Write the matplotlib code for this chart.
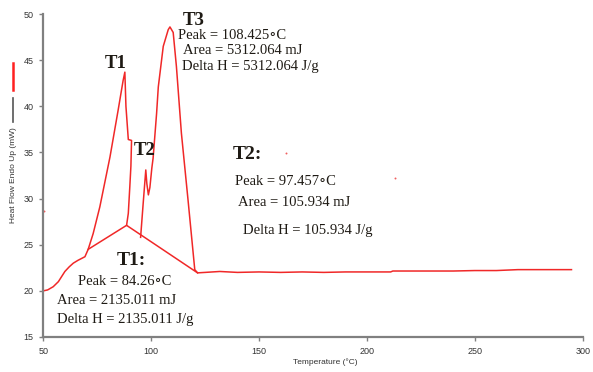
import matplotlib
matplotlib.use("Agg")
import matplotlib.pyplot as plt
from matplotlib.lines import Line2D

# ---- data ----
trace_temp = [50, 52, 54.6, 57, 60, 62, 63.9, 66, 69.3, 70.8,
              73.1, 76.2, 80.9, 84.7, 87.0, 87.8, 88.3, 89.4, 90.9,
              90.6, 90.1, 89.4, 88.6]
trace_heat = [20.0, 20.1, 20.45, 21.0, 22.1, 22.6, 23.0, 23.3, 23.7, 24.5,
              26.2, 29.1, 34.5, 39.6, 42.8, 43.7, 40.0, 36.4, 36.3,
              33.5, 31.3, 28.4, 27.1]

t23_temp = [95.1, 96.3, 97.5, 98.0, 98.7, 99.4, 100.3, 100.9, 102.5, 103.3,
            105.6, 107.9, 108.7, 110.2, 111.7, 114.0, 117.1, 120.2, 121.5,
            125, 131.8, 140, 150, 160, 170, 180, 190, 200, 211,
            212, 220, 230, 240, 250, 260, 265, 270, 280, 290, 294.8]
t23_heat = [25.8, 29.5, 33.1, 31.6, 30.4, 31.2, 33.3, 34.4, 39.2, 42.1,
            46.5, 48.3, 48.6, 48.0, 44.3, 37.1, 29.8, 22.3, 21.95,
            22.0, 22.1, 22.0, 22.05, 22.0, 22.05, 22.0, 22.05, 22.05, 22.05,
            22.15, 22.15, 22.15, 22.15, 22.2, 22.2, 22.25, 22.3, 22.3, 22.3, 22.3]

base_temp = [70.8, 88.6, 121.5]
base_heat = [24.5, 27.1, 21.95]

speck_temp = [162.7, 212.8, 50.3]
speck_heat = [34.9, 32.2, 28.65]

x_ticks = [50, 100, 150, 200, 250, 300]
y_ticks = [15, 20, 25, 30, 35, 40, 45, 50]

RED = "#f02828"

fig = plt.figure(figsize=(5.93, 3.72), dpi=100)
ax = fig.add_axes([43.3 / 593, 1 - 337 / 372, 539.4 / 593, 323 / 372])

ax.plot(trace_temp, trace_heat, color=RED, lw=1.1)
ax.plot(t23_temp, t23_heat, color=RED, lw=1.1)
ax.plot(base_temp, base_heat, color=RED, lw=1.1)
ax.scatter(speck_temp, speck_heat, s=2, color="#f06060", lw=0, clip_on=False)

ax.set_xlim(50, 300)
ax.set_ylim(15, 50)
ax.set_xticks(x_ticks)
ax.set_yticks(y_ticks)
for s in ("top", "right"):
    ax.spines[s].set_visible(False)
for s in ("left", "bottom"):
    ax.spines[s].set_color("#808080")
    ax.spines[s].set_linewidth(1.6)
ax.tick_params(axis="both", direction="out", length=3, width=1, color="#808080",
               labelsize=6.5, labelcolor="#333333", pad=4)
for lab in ax.get_xticklabels() + ax.get_yticklabels():
    lab.set_family("Liberation Sans")

# axis label and legend glyphs
fig.text(293 / 593, 1 - 362 / 372, "Temperature (°C)", fontsize=6,
         family="Liberation Sans", color="#333333", ha="left", va="center")
fig.text(14 / 593, 1 - 175 / 372, "Heat Flow Endo Up (mW)", fontsize=6,
         family="Liberation Sans", color="#333333", rotation=90,
         ha="center", va="center")
fig.add_artist(Line2D([13 / 593, 13 / 593], [1 - 63 / 372, 1 - 90 / 372],
                      color="#ff2020", lw=1.8))
fig.add_artist(Line2D([13 / 593, 13 / 593], [1 - 98 / 372, 1 - 122 / 372],
                      color="#555555", lw=1.2))

serif = ["Liberation Serif", "DejaVu Serif"]
tc = "#1e1a14"
big = dict(family=serif, fontweight="bold", color=tc, va="baseline", ha="left")
body = dict(family=serif, fontsize=10.5, color=tc, va="baseline", ha="left")

ax.text(78.6, 44.1, "T1", fontsize=13.5, **big)
ax.text(114.8, 48.8, "T3", fontsize=13.5, **big)
ax.text(91.7, 34.7, "T2", fontsize=13.5, **big)
ax.text(138.0, 34.25, "T2:", fontsize=14, **big)
ax.text(84.0, 22.8, "T1:", fontsize=14, **big)

ax.text(112.5, 47.3, "Peak = 108.425\u2218C", **body)
ax.text(114.8, 45.7, "Area = 5312.064 mJ", **body)
ax.text(114.1, 43.9, "Delta H = 5312.064 J/g", **body)

ax.text(138.75, 31.47, "Peak = 97.457\u2218C", **body)
ax.text(140.3, 29.2, "Area = 105.934 mJ", **body)
ax.text(142.6, 26.2, "Delta H = 105.934 J/g", **body)

ax.text(66.2, 20.63, "Peak = 84.26\u2218C", **body)
ax.text(56.2, 18.58, "Area = 2135.011 mJ", **body)
ax.text(56.2, 16.5, "Delta H = 2135.011 J/g", **body)

fig.savefig("out.png", dpi=100)
